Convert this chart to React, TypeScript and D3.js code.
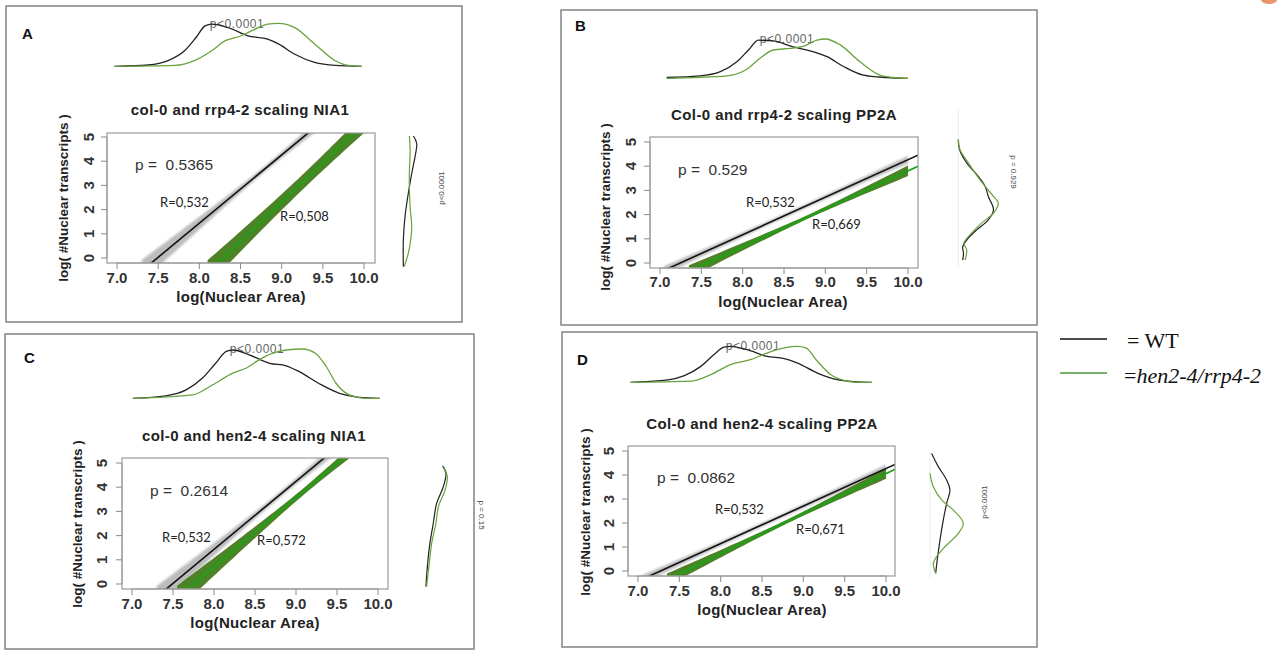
import React from "react";
import * as d3 from "d3";

// ---------- data ----------
const xTicks = [7.0, 7.5, 8.0, 8.5, 9.0, 9.5, 10.0];
const yTicks = [0, 1, 2, 3, 4, 5];
const panelLetters = ["A", "B", "C", "D"];
const panelTitles = [
  "col-0 and rrp4-2 scaling NIA1",
  "Col-0 and rrp4-2 scaling PP2A",
  "col-0 and hen2-4 scaling NIA1",
  "Col-0 and hen2-4 scaling PP2A",
];
const corrP = ["0.5365", "0.529", "0.2614", "0.0862"];
const rWT = ["R=0,532", "R=0,532", "R=0,532", "R=0,532"];
const rMut = ["R=0,508", "R=0,669", "R=0,572", "R=0,671"];
const topDensityP = ["p<0.0001", "p<0.0001", "p<0.0001", "p<0.0001"];
const sideDensityP = ["p<0.0001", "p = 0.929", "p = 0.15", "p<0.0001"];
const legendLabels = ["WT", "hen2-4/rrp4-2"];

// regression fits: [intercept, slope]
const wtFit = [[-21.12, 2.82], [-11.23, 1.55], [-21.05, 2.81], [-11.38, 1.565]];
const mutFit = [[-26.94, 3.25], [-11.89, 1.57], [-22.09, 2.85], [-12.64, 1.67]];
// confidence band: [xFrom, xTo, minHalfWidth, spread, xCentre]
const wtBand = [[7.3, 9.5, 0.12, 0.29, 8.8], [7.05, 10.0, 0.08, 0.1, 8.6], [7.3, 9.45, 0.12, 0.29, 8.8], [7.05, 10.0, 0.08, 0.1, 8.6]];
const mutBand = [[8.1, 10.0, 0.31, 0.35, 9.3], [7.35, 10.0, 0.08, 0.17, 8.8], [7.55, 9.7, 0.14, 0.31, 9.1], [7.35, 10.0, 0.08, 0.17, 8.8]];

// top marginal densities of log(Nuclear Area): [x, relative density]
const topWT_A = [[6.97,0],[7.38,0.03],[7.62,0.13],[7.82,0.36],[7.96,0.67],[8.07,0.94],[8.15,0.98],[8.35,0.9],[8.59,0.71],[8.83,0.63],[8.96,0.52],[9.16,0.28],[9.4,0.09],[9.65,0.02],[9.97,0]];
const topMut_A = [[6.97,0],[7.7,0.02],[7.94,0.13],[8.15,0.36],[8.31,0.59],[8.51,0.71],[8.67,0.86],[8.83,0.98],[8.96,1.0],[9.16,0.9],[9.4,0.52],[9.65,0.13],[9.81,0.02],[9.97,0]];
const topWT_B = [[7.08,0.02],[7.48,0.06],[7.73,0.17],[7.93,0.42],[8.07,0.72],[8.19,0.97],[8.37,0.95],[8.61,0.8],[8.85,0.68],[9.02,0.55],[9.22,0.3],[9.46,0.08],[9.74,0.02],[10.0,0]];
const topMut_B = [[7.08,0],[7.81,0.06],[8.05,0.23],[8.21,0.51],[8.37,0.72],[8.57,0.76],[8.73,0.81],[8.9,0.97],[9.0,1.0],[9.18,0.85],[9.42,0.42],[9.66,0.08],[9.82,0.02],[10.0,0]];
const topWT_C = [[7.01,0],[7.41,0.05],[7.66,0.17],[7.86,0.41],[8.02,0.71],[8.15,0.95],[8.23,0.98],[8.43,0.88],[8.68,0.71],[8.88,0.66],[9.04,0.54],[9.28,0.3],[9.53,0.1],[9.77,0.02],[10.02,0]];
const topMut_C = [[7.01,0],[7.74,0.07],[7.98,0.27],[8.23,0.51],[8.39,0.61],[8.55,0.78],[8.71,0.91],[8.88,0.98],[9.08,1.0],[9.24,0.91],[9.37,0.64],[9.49,0.3],[9.65,0.07],[9.85,0],[10.02,0]];
const topWT_D = [[6.91,0],[7.31,0.05],[7.56,0.18],[7.76,0.43],[7.92,0.75],[8.04,0.95],[8.12,0.97],[8.32,0.88],[8.56,0.7],[8.77,0.64],[8.93,0.52],[9.17,0.25],[9.41,0.07],[9.65,0.01],[9.83,0]];
const topMut_D = [[6.91,0],[7.64,0.03],[7.88,0.21],[8.12,0.48],[8.36,0.61],[8.56,0.79],[8.77,0.93],[8.93,0.97],[9.03,0.93],[9.17,0.57],[9.33,0.21],[9.49,0.05],[9.65,0],[9.83,0]];

// side marginal densities of log(#Nuclear transcripts): [y, relative density]
const sideWT_A = [[5.04,0.78],[4.74,1.0],[4.19,0.89],[3.5,0.67],[2.67,0.44],[1.71,0.22],[0.74,0.11],[-0.36,0.11]];
const sideMut_A = [[5.04,0.51],[4.46,0.56],[3.5,0.51],[2.95,0.51],[2.12,0.56],[1.29,0.67],[0.74,0.6],[0.19,0.44],[-0.36,0.16]];
const sideWT_B = [[5.1,0],[4.69,0.03],[4.14,0.21],[3.58,0.5],[3.17,0.67],[2.75,0.75],[2.2,0.88],[1.78,0.75],[1.37,0.46],[0.95,0.21],[0.68,0.11],[0.4,0.13],[0.12,0.11]];
const sideMut_B = [[5.1,0],[4.69,0.04],[4.14,0.25],[3.58,0.48],[3.17,0.67],[2.75,0.88],[2.48,1.0],[2.06,0.88],[1.65,0.58],[1.23,0.33],[0.82,0.14],[0.54,0.21],[0.12,0.17]];
const sideWT_C = [[4.88,0.79],[4.57,0.94],[4.02,0.82],[3.33,0.52],[2.5,0.37],[1.68,0.22],[0.86,0.12],[-0.11,0.04]];
const sideMut_C = [[4.88,0.82],[4.43,1.0],[3.88,0.9],[3.19,0.6],[2.5,0.49],[1.68,0.3],[0.86,0.19],[-0.11,0.07]];
const sideWT_D = [[4.9,0.05],[4.35,0.25],[3.79,0.5],[3.38,0.6],[2.82,0.5],[2.13,0.4],[1.29,0.3],[0.6,0.23],[-0.1,0.17]];
const sideMut_D = [[4.07,0],[3.51,0.1],[2.96,0.35],[2.54,0.7],[1.99,1.0],[1.57,0.85],[1.01,0.45],[0.6,0.2],[0.32,0.1],[-0.1,0.17]];

const topWT = [topWT_A, topWT_B, topWT_C, topWT_D];
const topMut = [topMut_A, topMut_B, topMut_C, topMut_D];
const sideWT = [sideWT_A, sideWT_B, sideWT_C, sideWT_D];
const sideMut = [sideMut_A, sideMut_B, sideMut_C, sideMut_D];

// ---------- layout ----------
const layouts = [
  { frame: [6, 6, 456, 316], box: [107, 133, 375, 263], xr: [117, 364], yr: [258, 137],
    letter: [22, 39], title: [240, 115], xTickY: 283, xLab: [241, 302], yLab: [68, 198], yTickX: 94,
    pText: [135, 170], rWT: [160, 207], rMut: [280, 221], top: [66.3, 43], topP: [237, 28],
    side: [401.7, 15], sideP: [441, 188, -90], sideRule: null },
  { frame: [561, 10, 476, 315], box: [650, 137, 918, 268], xr: [660, 908], yr: [263, 142],
    letter: [575, 31], title: [784, 120], xTickY: 287, xLab: [783, 307], yLab: [610, 207], yTickX: 636,
    pText: [678, 175], rWT: [746, 207], rMut: [812, 229], top: [78.3, 39.3], topP: [787, 43],
    side: [958.3, 40], sideP: [1013, 172, 90], sideRule: [110, 267] },
  { frame: [5, 334, 469, 315], box: [122, 458, 388, 589], xr: [132, 378], yr: [584, 463],
    letter: [24, 363], title: [254, 441], xTickY: 609, xLab: [255, 628], yLab: [82, 524], yTickX: 107,
    pText: [150, 496], rWT: [162, 542], rMut: [257, 545], top: [398.3, 49.3], topP: [257, 353],
    side: [425, 22.3], sideP: [481, 515, 90], sideRule: null },
  { frame: [562, 332, 475, 315], box: [628, 446, 895, 576], xr: [638, 886], yr: [571, 451],
    letter: [577, 365], title: [762, 429], xTickY: 596, xLab: [762, 615], yLab: [590, 512], yTickX: 614,
    pText: [657, 483], rWT: [715, 514], rMut: [796, 534], top: [382.3, 37], topP: [753, 350],
    side: [930, 33.3], sideP: [984, 502, -90], sideRule: [452, 578] },
];

const SANS = "'Liberation Sans', Arial, Helvetica, sans-serif";
const WT_COL = "#111111";
const MUT_LINE = "#16a616";
const MUT_BAND = "#4d8226";
const WT_BAND = "#b5b5b5";
const DENS_MUT = "#6aa23e";
const DENS_WT = "#222222";

function Panel({ i }: { i: number }) {
  const L = layouts[i];
  const x = d3.scaleLinear().domain([7, 10]).range(L.xr);
  const y = d3.scaleLinear().domain([0, 5]).range(L.yr);
  const [bl, bt, br, bb] = L.box;
  const xLo = x.invert(bl), xHi = x.invert(br);
  const clipId = `clip-${i}`;

  const fitLine = (f: number[]) =>
    d3.line<number>().x((v) => x(v)).y((v) => y(f[0] + f[1] * v))([xLo, xHi]) as string;

  const bandPath = (f: number[], b: number[]) => {
    const xs = d3.range(b[0], b[1] + 1e-9, (b[1] - b[0]) / 40);
    const hw = (v: number) => Math.sqrt(b[2] * b[2] + b[3] * b[3] * (v - b[4]) * (v - b[4]));
    return d3.area<number>()
      .x((v) => x(v))
      .y0((v) => y(f[0] + f[1] * v - hw(v)))
      .y1((v) => y(f[0] + f[1] * v + hw(v)))(xs) as string;
  };

  const topY = d3.scaleLinear().domain([0, 1]).range([L.top[0], L.top[0] - L.top[1]]);
  const topLine = d3.line<number[]>().x((d) => x(d[0])).y((d) => topY(d[1])).curve(d3.curveMonotoneX);
  const sideX = d3.scaleLinear().domain([0, 1]).range([L.side[0], L.side[0] + L.side[1]]);
  const sideLine = d3.line<number[]>().x((d) => sideX(d[1])).y((d) => y(d[0])).curve(d3.curveCatmullRom);

  const [fx, fy, fw, fh] = L.frame;
  return (
    <g>
      <defs>
        <clipPath id={clipId}>
          <rect x={bl} y={bt} width={br - bl} height={bb - bt} />
        </clipPath>
      </defs>
      <rect x={fx} y={fy} width={fw} height={fh} fill="none" stroke="#7a7a7a" strokeWidth={1.4} />
      <text x={L.letter[0]} y={L.letter[1]} fontFamily={SANS} fontWeight="bold" fontSize={15} fill="#111">
        {panelLetters[i]}
      </text>

      {/* top marginal density */}
      <text x={L.topP[0]} y={L.topP[1]} textAnchor="middle" fontFamily={SANS} fontSize={12} fill="#666" letterSpacing={0.5}>
        {topDensityP[i]}
      </text>
      <path d={topLine(topWT[i]) as string} fill="none" stroke={DENS_WT} strokeWidth={1.3} />
      <path d={topLine(topMut[i]) as string} fill="none" stroke={DENS_MUT} strokeWidth={1.3} />

      {/* side marginal density */}
      {L.sideRule && (
        <line x1={L.side[0]} x2={L.side[0]} y1={L.sideRule[0]} y2={L.sideRule[1]} stroke="#ececec" strokeWidth={1} />
      )}
      <path d={sideLine(sideWT[i]) as string} fill="none" stroke={DENS_WT} strokeWidth={1.2} />
      <path d={sideLine(sideMut[i]) as string} fill="none" stroke={DENS_MUT} strokeWidth={1.2} />
      <text
        transform={`translate(${L.sideP[0]},${L.sideP[1]}) rotate(${L.sideP[2]})`}
        textAnchor="middle" dominantBaseline="central" fontFamily={SANS} fontSize={8} fill="#444"
      >
        {sideDensityP[i]}
      </text>

      {/* title */}
      <text x={L.title[0]} y={L.title[1]} textAnchor="middle" fontFamily={SANS} fontWeight="bold" fontSize={15} fill="#222" letterSpacing={0.4}>
        {panelTitles[i]}
      </text>

      {/* bands and fits */}
      <g clipPath={`url(#${clipId})`}>
        <path d={bandPath(wtFit[i], wtBand[i])} fill={WT_BAND} opacity={0.9} filter="url(#soft)" />
        <path d={bandPath(mutFit[i], mutBand[i])} fill={MUT_BAND} filter="url(#soft2)" />
        <path d={fitLine(wtFit[i])} stroke={WT_COL} strokeWidth={1.6} fill="none" />
        <path d={fitLine(mutFit[i])} stroke={MUT_LINE} strokeWidth={1.8} fill="none" />
      </g>

      {/* plot box */}
      <rect x={bl} y={bt} width={br - bl} height={bb - bt} fill="none" stroke="#9a9a9a" strokeWidth={1.2} />

      {/* x axis */}
      <line x1={x(7)} x2={x(10)} y1={bb} y2={bb} stroke="#9a9a9a" strokeWidth={1} />
      {xTicks.map((t) => (
        <g key={`xt${t}`}>
          <line x1={x(t)} x2={x(t)} y1={bb} y2={bb + 6} stroke="#8a8a8a" strokeWidth={1} />
          <text x={x(t)} y={L.xTickY} textAnchor="middle" fontFamily={SANS} fontWeight="bold" fontSize={15} fill="#333">
            {t.toFixed(1)}
          </text>
        </g>
      ))}
      <text x={L.xLab[0]} y={L.xLab[1]} textAnchor="middle" fontFamily={SANS} fontWeight="bold" fontSize={15} fill="#222" letterSpacing={0.3}>
        log(Nuclear Area)
      </text>

      {/* y axis */}
      <line x1={bl} x2={bl} y1={y(0)} y2={y(5)} stroke="#9a9a9a" strokeWidth={1} />
      {yTicks.map((t) => (
        <g key={`yt${t}`}>
          <line x1={bl - 6} x2={bl} y1={y(t)} y2={y(t)} stroke="#8a8a8a" strokeWidth={1} />
          <text
            transform={`translate(${L.yTickX},${y(t)}) rotate(-90)`}
            textAnchor="middle" fontFamily={SANS} fontWeight="bold" fontSize={15} fill="#333"
          >
            {t}
          </text>
        </g>
      ))}
      <text
        transform={`translate(${L.yLab[0]},${L.yLab[1]}) rotate(-90)`}
        textAnchor="middle" fontFamily={SANS} fontWeight="bold" fontSize={13.5} fill="#222"
      >
        log( #Nuclear transcripts )
      </text>

      {/* annotations */}
      <text x={L.pText[0]} y={L.pText[1]} fontFamily={SANS} fontSize={15.5} fill="#333" xmlSpace="preserve">
        {`p =  ${corrP[i]}`}
      </text>
      <text x={L.rWT[0]} y={L.rWT[1]} fontFamily="Lato, 'Open Sans', sans-serif" fontSize={13} fill="#222">
        {rWT[i]}
      </text>
      <text x={L.rMut[0]} y={L.rMut[1]} fontFamily="Lato, 'Open Sans', sans-serif" fontSize={13} fill="#222">
        {rMut[i]}
      </text>
    </g>
  );
}

export default function App() {
  return (
    <svg
      width={1281}
      height={651}
      style={{ position: "absolute", left: 0, top: 0, background: "#fff" }}
      xmlns="http://www.w3.org/2000/svg"
    >
      <defs>
        <filter id="soft" x="-10%" y="-10%" width="120%" height="120%">
          <feGaussianBlur stdDeviation="1.3" />
        </filter>
        <filter id="soft2" x="-10%" y="-10%" width="120%" height="120%">
          <feGaussianBlur stdDeviation="0.6" />
        </filter>
      </defs>
      <rect x={0} y={0} width={1281} height={651} fill="#fff" />
      <ellipse cx={1269} cy={0} rx={8} ry={4} fill="#e8956a" />
      {[0, 1, 2, 3].map((i) => (
        <Panel key={i} i={i} />
      ))}

      {/* legend */}
      <line x1={1060} x2={1107} y1={339} y2={339} stroke="#111" strokeWidth={1.6} />
      <text x={1127} y={348} fontFamily="'Liberation Serif', 'Times New Roman', serif" fontSize={22} fill="#111" xmlSpace="preserve">
        {`= ${legendLabels[0]}`}
      </text>
      <line x1={1060} x2={1107} y1={373} y2={373} stroke="#4a9a3a" strokeWidth={1.6} />
      <text x={1124} y={383} fontFamily="'Liberation Serif', 'Times New Roman', serif" fontSize={22} fill="#111">
        =<tspan fontStyle="italic">{legendLabels[1]}</tspan>
      </text>
    </svg>
  );
}
